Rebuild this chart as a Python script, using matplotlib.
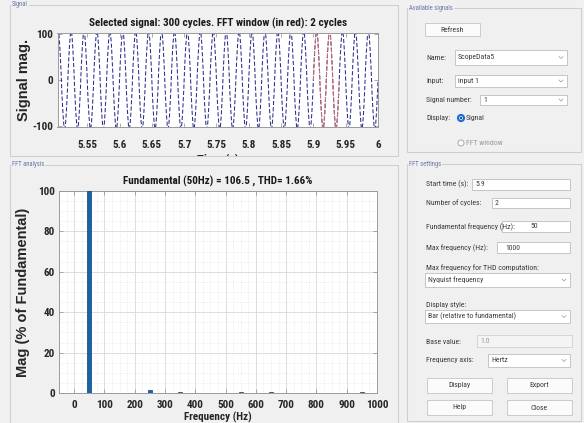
import matplotlib

matplotlib.use("Agg")
import matplotlib.pyplot as plt
import numpy as np
from matplotlib.patches import Ellipse, Rectangle
from matplotlib.ticker import MultipleLocator

plt.rcParams["axes.unicode_minus"] = False

W, H = 584, 423
BG = "#f0f0f0"
NARROW = ["Roboto Condensed", "Liberation Sans", "DejaVu Sans"]
WIDE = ["Liberation Sans", "DejaVu Sans"]

# harmonic content (% of fundamental)
HARMONIC_HZ = [50, 250, 350, 550, 650, 850, 950]
HARMONIC_PCT = [100.0, 1.35, 0.7, 0.3, 0.25, 0.2, 0.55]
FUNDAMENTAL_MAG = 106.5
FUNDAMENTAL_HZ = 50
THD_PCT = 1.66

SIGNAL_CYCLES = 300
WINDOW_START = 5.9
WINDOW_CYCLES = 2
MAX_FREQ = 1000

SIGNAL_XLIM = (5.504, 6.0)
SIGNAL_YLIM = (-103, 103)
SIGNAL_XTICKS = [5.55, 5.6, 5.65, 5.7, 5.75, 5.8, 5.85, 5.9, 5.95, 6.0]
SIGNAL_XTICKLABELS = ["5.55", "5.6", "5.65", "5.7", "5.75", "5.8", "5.85", "5.9", "5.95", "6"]
SIGNAL_YTICKS = [-100, 0, 100]

FFT_XLIM = (-50, 1000)
FFT_XTICKS = [0, 100, 200, 300, 400, 500, 600, 700, 800, 900, 1000]
FFT_YTICKS = [0, 20, 40, 60, 80, 100]


def px_axes(fig, x0, y0, x1, y1, **kw):
    return fig.add_axes([x0 / W, 1 - y1 / H, (x1 - x0) / W, (y1 - y0) / H], **kw)


fig = plt.figure(figsize=(W / 100, H / 100), dpi=100, facecolor=BG)

# full-figure layer in pixel units for the panels and controls
ui = fig.add_axes([0, 0, 1, 1], zorder=0)
ui.set_xlim(0, W)
ui.set_ylim(H, 0)
ui.axis("off")


def frame(x0, y0, x1, y1, title):
    ui.add_patch(Rectangle((x0, y0), x1 - x0, y1 - y0, fill=False, ec="#cfcfcf", lw=0.8))
    ui.text(x0 + 2, y0, title, fontsize=4.8, color="#6a78a8", va="center", ha="left",
            family=NARROW, bbox=dict(fc=BG, ec="none", pad=0.6))


def label(x, y, s, color="#3c3c3c", size=5.6, ha="left"):
    ui.text(x, y, s, fontsize=size, color=color, va="center", ha=ha, family=NARROW)


def button(x0, y0, x1, y1, s):
    ui.add_patch(Rectangle((x0, y0), x1 - x0, y1 - y0, fc="#fbfbfb", ec="#c4c4c4", lw=0.6))
    label((x0 + x1) / 2, (y0 + y1) / 2, s, ha="center")


def field(x0, y0, x1, y1, s, tx=None, fc="white", ec="#bdbdbd", color="#3c3c3c"):
    ui.add_patch(Rectangle((x0, y0), x1 - x0, y1 - y0, fc=fc, ec=ec, lw=0.6))
    label(x0 + 3 if tx is None else tx, (y0 + y1) / 2, s, color=color)


def dropdown(x0, y0, x1, y1, s):
    field(x0, y0, x1, y1, s)
    cy = (y0 + y1) / 2
    ui.plot([x1 - 8, x1 - 6, x1 - 4], [cy - 1, cy + 1, cy - 1], color="#9a9a9a", lw=0.5)


frame(10, 5, 398, 156, "Signal")
frame(10, 165, 398, 430, "FFT analysis")
frame(407, 8, 581, 152, "Available signals")
frame(407, 164, 581, 421, "FFT settings")

button(425, 23, 480, 36, "Refresh")
label(426, 58, "Name:")
dropdown(455, 50, 567, 65, "ScopeData5")
label(426, 81, "Input:")
dropdown(455, 75, 567, 87, "input 1")
label(426, 100, "Signal number:")
dropdown(480, 95, 567, 105, "1")
label(426, 118, "Display:")
ui.add_patch(Ellipse((461, 118), 6, 6, fc="white", ec="#1f6fd2", lw=1.6))
ui.add_patch(Ellipse((461, 118), 2.4, 2.4, fc="#1f4f9a", ec="none"))
label(466, 118, "Signal")
ui.add_patch(Ellipse((461, 143), 6, 6, fc="white", ec="#9a9a9a", lw=0.6))
label(466, 143, "FFT window", color="#9a9a9a")

label(426, 184, "Start time (s):")
field(472, 179, 570, 190, f"{WINDOW_START:g}")
label(426, 203, "Number of cycles:")
field(492, 198, 570, 208, f"{WINDOW_CYCLES}")
label(426, 227, "Fundamental frequency (Hz):")
field(502, 221, 570, 232, f"{FUNDAMENTAL_HZ}", tx=530)
label(426, 248, "Max frequency (Hz):")
field(497, 242, 570, 253, f"{MAX_FREQ}", tx=505)
label(426, 268, "Max frequency for THD computation:")
dropdown(425, 273, 570, 287, "Nyquist frequency")
label(426, 305, "Display style:")
dropdown(425, 310, 570, 323, "Bar (relative to fundamental)")
label(426, 342, "Base value:")
field(477, 335, 572, 347, "1.0", tx=480, fc="#f4f4f4", ec="#d0d0d0", color="#9a9a9a")
label(426, 360, "Frequency axis:")
dropdown(488, 354, 570, 367, "Hertz")
button(427, 378, 492, 393, "Display")
button(507, 378, 572, 393, "Export")
button(427, 400, 492, 415, "Help")
button(507, 400, 572, 415, "Close")

# time signal rebuilt from the harmonic spectrum
t = np.linspace(5.5, 6.0, 5001)
signal = np.zeros_like(t)
for f, pct in zip(HARMONIC_HZ, HARMONIC_PCT):
    signal += FUNDAMENTAL_MAG * pct / 100 * np.sin(2 * np.pi * f * t)
win_end = WINDOW_START + WINDOW_CYCLES / FUNDAMENTAL_HZ
in_win = (t >= WINDOW_START) & (t <= win_end)


def style_axes(ax):
    ax.set_facecolor("white")
    for sp in ax.spines.values():
        sp.set_color("#9a9a9a")
        sp.set_linewidth(0.7)
    ax.tick_params(direction="in", length=3, width=0.5, color="#8a8a8a",
                   top=True, right=True, labelsize=8, labelcolor="#262626")
    for lab in ax.get_xticklabels() + ax.get_yticklabels():
        lab.set_family(NARROW)
        lab.set_fontweight("bold")


ax1 = px_axes(fig, 57.5, 33, 378, 127, zorder=1)
ax1.plot(t, signal, color="#2c2c8c", lw=0.75, linestyle=(0, (4, 2)))
ax1.plot(t[in_win], signal[in_win], color="#d87070", lw=0.75, linestyle=(0, (4, 2)))
ax1.set_xlim(*SIGNAL_XLIM)
ax1.set_ylim(*SIGNAL_YLIM)
ax1.set_xticks(SIGNAL_XTICKS, SIGNAL_XTICKLABELS)
ax1.set_yticks(SIGNAL_YTICKS)
style_axes(ax1)
ax1.tick_params(axis="x", pad=9.5)
ax1.tick_params(axis="y", pad=3)
ax1.set_title(f"Selected signal: {SIGNAL_CYCLES} cycles. FFT window (in red): {WINDOW_CYCLES} cycles",
              family=NARROW, fontweight="bold", fontsize=8, pad=4.5, color="#1a1a1a")
ax1.set_ylabel("Signal mag.", family=WIDE, fontweight="bold", fontsize=10.5, color="#262626")
ax1.yaxis.set_label_coords(-0.084, 0.5)

# x label of the signal plot runs under the panel edge
clip = Rectangle((0, 0), W, 156, transform=ui.transData)
tl = ui.text(218, 160.5, "Time (s)", fontsize=9, family=NARROW, fontweight="bold",
             ha="center", va="center", color="#262626")
tl.set_clip_path(clip)
tl.set_clip_on(True)

ax2 = px_axes(fig, 59, 191, 377, 393, zorder=1)
ax2.bar(HARMONIC_HZ, HARMONIC_PCT, width=12, color="#1763a6", edgecolor="#0d3f70", lw=0.5, zorder=3)
ax2.set_xlim(*FFT_XLIM)
ax2.set_ylim(0, 100)
ax2.set_xticks(FFT_XTICKS)
ax2.set_yticks(FFT_YTICKS)
ax2.xaxis.set_minor_locator(MultipleLocator(25))
ax2.yaxis.set_minor_locator(MultipleLocator(5))
ax2.grid(True, which="major", color="#d8d8d8", lw=0.6)
ax2.grid(True, which="minor", color="#e2e2e2", lw=0.5, linestyle=(0, (1, 1.5)))
ax2.tick_params(which="minor", length=0)
ax2.set_axisbelow(True)
style_axes(ax2)
ax2.tick_params(axis="x", pad=5)
ax2.tick_params(axis="y", pad=3)
ax2.set_title(f"Fundamental ({FUNDAMENTAL_HZ}Hz) = {FUNDAMENTAL_MAG} , THD= {THD_PCT}%",
              family=NARROW, fontweight="bold", fontsize=8, pad=4.5, color="#1a1a1a")
ax2.set_ylabel("Mag (% of Fundamental)", family=WIDE, fontweight="bold", fontsize=10.5, color="#262626")
ax2.yaxis.set_label_coords((30.5 - 59) / 318, 0.5)
ui.text(218, 423, "Frequency (Hz)", fontsize=8, family=NARROW, fontweight="bold",
        ha="center", va="bottom", color="#262626")

fig.savefig("out.png", dpi=100, facecolor=BG)
